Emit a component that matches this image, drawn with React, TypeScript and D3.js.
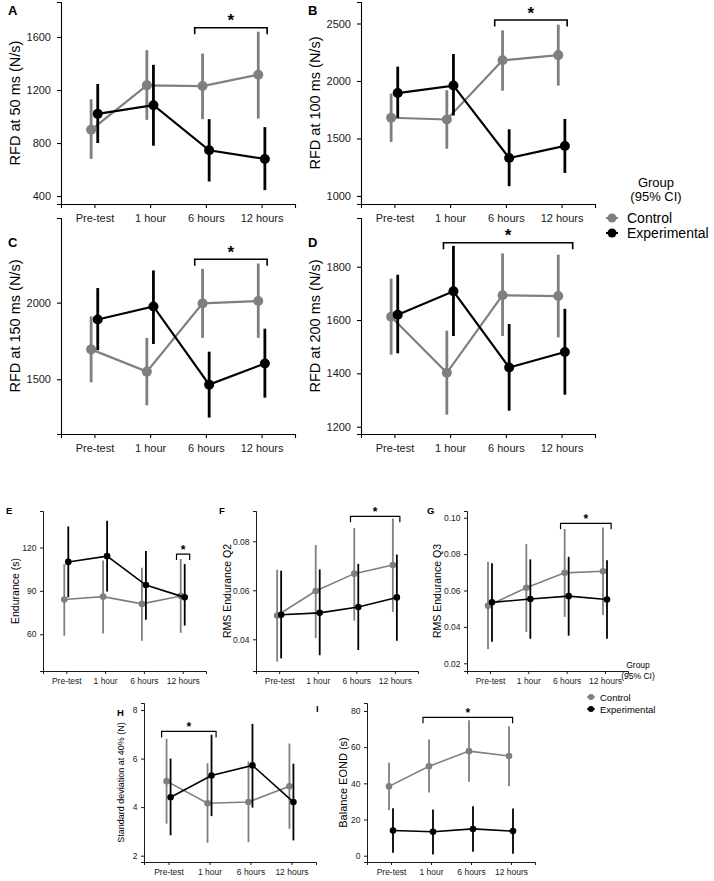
import { useEffect, useRef } from 'react'
import * as d3 from 'd3'

const times = ['Pre-test', '1 hour', '6 hours', '12 hours']
const groups = ['Control', 'Experimental']

// each entry: [mean, lower 95% CI, upper 95% CI]
const rfd50Control = [[900, 680, 1130], [1235, 975, 1500], [1230, 980, 1475], [1315, 985, 1640]]
const rfd50Experimental = [[1020, 800, 1245], [1085, 780, 1390], [745, 510, 980], [680, 445, 920]]
const rfd100Control = [[1680, 1470, 1890], [1665, 1410, 1920], [2180, 1915, 2440], [2225, 1960, 2490]]
const rfd100Experimental = [[1895, 1680, 2125], [1960, 1700, 2235], [1330, 1085, 1580], [1435, 1200, 1670]]
const rfd150Control = [[1695, 1480, 1910], [1550, 1330, 1770], [1995, 1770, 2220], [2010, 1770, 2255]]
const rfd150Experimental = [[1890, 1690, 2095], [1975, 1730, 2210], [1465, 1250, 1680], [1603, 1380, 1830]]
const rfd200Control = [[1612, 1470, 1755], [1402, 1245, 1560], [1693, 1540, 1850], [1690, 1535, 1845]]
const rfd200Experimental = [[1620, 1475, 1770], [1708, 1540, 1878], [1422, 1260, 1585], [1480, 1320, 1642]]
const enduranceControl = [[84, 59, 108.5], [86, 60.5, 111], [81, 55.5, 106], [86.5, 61, 112]]
const enduranceExperimental = [[110, 85.5, 134.5], [114, 89.5, 138.5], [94, 70, 117.5], [85.5, 66, 108.5]]
const rmsQ2Control = [[0.0497, 0.0309, 0.0684], [0.0597, 0.0405, 0.0785], [0.0668, 0.0476, 0.0855], [0.0703, 0.0512, 0.0893]]
const rmsQ2Experimental = [[0.05, 0.0322, 0.068], [0.0508, 0.0335, 0.0685], [0.0532, 0.0356, 0.0708], [0.0571, 0.0394, 0.0746]]
const rmsQ3Control = [[0.0516, 0.0277, 0.0758], [0.0615, 0.0372, 0.0855], [0.0697, 0.0455, 0.0938], [0.0706, 0.0465, 0.0947]]
const rmsQ3Experimental = [[0.0535, 0.0319, 0.075], [0.0553, 0.0335, 0.0771], [0.0569, 0.0352, 0.0785], [0.0551, 0.0335, 0.0767]]
const sdControl = [[5.07, 3.32, 6.82], [4.16, 2.53, 5.81], [4.21, 2.56, 5.88], [4.86, 3.11, 6.62]]
const sdExperimental = [[4.41, 2.84, 6.0], [5.3, 3.63, 6.98], [5.72, 3.98, 7.43], [4.21, 2.63, 5.79]]
const balanceControl = [[38.3, 25.1, 51.4], [49.4, 34.9, 64.2], [57.8, 40.9, 74.8], [55.1, 38.4, 71.6]]
const balanceExperimental = [[13.9, 1.6, 26.2], [13.2, 0.7, 25.6], [14.8, 2.2, 27.4], [13.6, 1.1, 26.1]]

// tick values per panel
const rfd50Ticks = [400, 800, 1200, 1600]
const rfd100Ticks = [1000, 1500, 2000, 2500]
const rfd150Ticks = [1500, 2000]
const rfd200Ticks = [1200, 1400, 1600, 1800]
const enduranceTicks = [60, 90, 120]
const rmsQ2Ticks = [0.04, 0.06, 0.08]
const rmsQ3Ticks = [0.02, 0.04, 0.06, 0.08, 0.1]
const sdTicks = [2, 4, 6, 8]
const balanceTicks = [0, 20, 40, 60, 80]

// significance brackets: [from (time index), to (time index), height in data units]
const rfd50Sig = [1.8, 3.1, 1670]
const rfd100Sig = [1.8, 3.1, 2530]
const rfd150Sig = [1.8, 3.1, 2283]
const rfd200Sig = [0.88, 3.2, 1890]
const enduranceSig = [2.84, 3.18, 115.4]
const rmsQ2Sig = [1.85, 3.13, 0.0902]
const rmsQ3Sig = [1.84, 3.16, 0.0969]
const sdSig = [-0.17, 1.16, 7.12]
const balanceSig = [0.8, 3.04, 76.5]

const GRAY = '#7f7f7f'
const FONT = "'Liberation Sans', Arial, Helvetica, sans-serif"

const panels = [
  { letter: 'A', lx: 8, ly: 15, title: 'RFD at 50 ms (N/s)', tx: 15, tsize: 14.5, x0: 61, x1: 295, top: 2, bottom: 204, domain: [340, 1864], ticks: rfd50Ticks, fmt: 'd', control: rfd50Control, experimental: rfd50Experimental, sig: rfd50Sig, big: true },
  { letter: 'B', lx: 308, ly: 15, title: 'RFD at 100 ms (N/s)', tx: 315, tsize: 14.5, x0: 361, x1: 595, top: 2, bottom: 204, domain: [930, 2687], ticks: rfd100Ticks, fmt: 'd', control: rfd100Control, experimental: rfd100Experimental, sig: rfd100Sig, big: true },
  { letter: 'C', lx: 8, ly: 247, title: 'RFD at 150 ms (N/s)', tx: 15, tsize: 14.5, x0: 61, x1: 295, top: 218, bottom: 434, domain: [1143, 2552], ticks: rfd150Ticks, fmt: 'd', control: rfd150Control, experimental: rfd150Experimental, sig: rfd150Sig, big: true },
  { letter: 'D', lx: 308, ly: 247, title: 'RFD at 200 ms (N/s)', tx: 315, tsize: 14.5, x0: 361, x1: 595, top: 218, bottom: 434, domain: [1172.6, 1982.6], ticks: rfd200Ticks, fmt: 'd', control: rfd200Control, experimental: rfd200Experimental, sig: rfd200Sig, big: true },
  { letter: 'E', lx: 6, ly: 514, title: 'Endurance (s)', tx: 15, tsize: 10.5, x0: 43, x1: 206, top: 511, bottom: 671, domain: [34.6, 145.2], ticks: enduranceTicks, fmt: 'd', control: enduranceControl, experimental: enduranceExperimental, sig: enduranceSig, big: false },
  { letter: 'F', lx: 219, ly: 514, title: 'RMS Endurance Q2', tx: 227, tsize: 10.5, x0: 256, x1: 418, top: 511, bottom: 671, domain: [0.02706, 0.09237], ticks: rmsQ2Ticks, fmt: '.2f', control: rmsQ2Control, experimental: rmsQ2Experimental, sig: rmsQ2Sig, big: false },
  { letter: 'G', lx: 427, ly: 514, title: 'RMS Endurance Q3', tx: 437, tsize: 10.5, x0: 467, x1: 628, top: 511, bottom: 671, domain: [0.01577, 0.1037], ticks: rmsQ3Ticks, fmt: '.2f', control: rmsQ3Control, experimental: rmsQ3Experimental, sig: rmsQ3Sig, big: false },
  { letter: 'H', lx: 117, ly: 716, title: 'Standard deviation at 40% (N)', tx: 121, tsize: 9, x0: 144, x1: 316, top: 703, bottom: 862, domain: [1.74, 8.29], ticks: sdTicks, fmt: 'd', control: sdControl, experimental: sdExperimental, sig: sdSig, big: false },
  { letter: 'I', lx: 316, ly: 712, title: 'Balance EOND (s)', tx: 343, tsize: 11, x0: 367, x1: 535, top: 703, bottom: 862, domain: [-3.48, 84.4], ticks: balanceTicks, fmt: 'd', control: balanceControl, experimental: balanceExperimental, sig: balanceSig, big: false },
]

const App = () => {
  const ref = useRef<SVGSVGElement>(null)

  useEffect(() => {
    const svg = d3.select(ref.current)
    svg.selectAll('*').remove()

    panels.forEach((p) => {
      const big = p.big
      const g = svg.append('g').attr('font-family', FONT)
      const x = d3.scalePoint<string>().domain(times).range([p.x0, p.x1]).padding(0.6)
      const step = x.step()
      const y = d3.scaleLinear().domain(p.domain).range([p.bottom, p.top])
      const dodge = big ? 3.3 : 2
      const tickLen = big ? 4 : 3

      // axes
      const yAxis = g.append('g')
        .attr('transform', `translate(${p.x0},0)`)
        .call(d3.axisLeft(y).tickValues(p.ticks).tickSizeOuter(0).tickSize(tickLen).tickPadding(big ? 6 : 3.5)
          .tickFormat((d) => d3.format(p.fmt)(d as number)))
      const xAxis = g.append('g')
        .attr('transform', `translate(0,${p.bottom})`)
        .call(d3.axisBottom(x).tickSizeOuter(0).tickSize(tickLen).tickPadding(big ? 6 : 4))
      ;[yAxis, xAxis].forEach((ax) => {
        ax.attr('font-family', FONT).attr('font-size', big ? 11 : 8.5)
        ax.select('.domain').attr('stroke', '#000').attr('stroke-width', big ? 1.1 : 0.9)
        ax.selectAll('.tick line').attr('stroke', '#000').attr('stroke-width', big ? 1.1 : 0.9)
        ax.selectAll('.tick text').attr('fill', '#1a1a1a')
      })

      // y title
      g.append('text')
        .attr('transform', `translate(${p.tx},${(p.top + p.bottom) / 2}) rotate(-90)`)
        .attr('text-anchor', 'middle')
        .attr('dominant-baseline', 'central')
        .attr('font-size', p.tsize)
        .attr('fill', '#000')
        .text(p.title)

      // panel letter
      g.append('text')
        .attr('x', p.lx).attr('y', p.ly)
        .attr('font-size', big ? 13 : 9.5)
        .attr('font-weight', 'bold')
        .text(p.letter)

      // series: control first, experimental on top
      const series = [
        { data: p.control, color: GRAY, off: -dodge },
        { data: p.experimental, color: '#000', off: dodge },
      ]
      series.forEach((s) => {
        const px = (i: number) => (x(times[i]) as number) + s.off
        g.append('path')
          .datum(s.data)
          .attr('fill', 'none')
          .attr('stroke', s.color)
          .attr('stroke-width', big ? 2.2 : 1.6)
          .attr('d', d3.line<number[]>().x((_, i) => px(i)).y((d) => y(d[0])))
        g.append('g').selectAll('line')
          .data(s.data)
          .enter()
          .append('line')
          .attr('x1', (_, i) => px(i)).attr('x2', (_, i) => px(i))
          .attr('y1', (d) => y(d[1])).attr('y2', (d) => y(d[2]))
          .attr('stroke', s.color)
          .attr('stroke-width', big ? 2.8 : 1.8)
        g.append('g').selectAll('circle')
          .data(s.data)
          .enter()
          .append('circle')
          .attr('cx', (_, i) => px(i))
          .attr('cy', (d) => y(d[0]))
          .attr('r', big ? 5 : 3.3)
          .attr('fill', s.color)
      })

      // significance bracket
      const base = (x(times[0]) as number)
      const xa = base + p.sig[0] * step
      const xb = base + p.sig[1] * step
      const yb = y(p.sig[2])
      const drop = big ? 6.5 : 6
      g.append('path')
        .attr('d', `M${xa},${yb + drop}L${xa},${yb}L${xb},${yb}L${xb},${yb + drop}`)
        .attr('fill', 'none')
        .attr('stroke', '#000')
        .attr('stroke-width', big ? 1.6 : 1.2)
      g.append('text')
        .attr('x', (xa + xb) / 2)
        .attr('y', big ? yb - 1.5 : yb - 0.5)
        .attr('text-anchor', 'middle')
        .attr('font-size', big ? 17 : 12)
        .attr('font-weight', 'bold')
        .text('*')
    })

    // legends
    const legends = [
      { cx: 656, t1: 187, t2: 201, dotX: 612, rows: [218, 233], textX: 627, titleSize: 13, labelSize: 14, r: 4.5, half: 6 },
      { cx: 638, t1: 668, t2: 679, dotX: 591, rows: [697, 709], textX: 600, titleSize: 8.5, labelSize: 9.5, r: 3, half: 4 },
    ]
    legends.forEach((L) => {
      const lg = svg.append('g').attr('font-family', FONT)
      lg.append('text').attr('x', L.cx).attr('y', L.t1).attr('text-anchor', 'middle').attr('font-size', L.titleSize).text('Group')
      lg.append('text').attr('x', L.cx).attr('y', L.t2).attr('text-anchor', 'middle').attr('font-size', L.titleSize).text('(95% CI)')
      groups.forEach((name, i) => {
        const color = i === 0 ? GRAY : '#000'
        const cy = L.rows[i]
        lg.append('line')
          .attr('x1', L.dotX - L.half).attr('x2', L.dotX + L.half)
          .attr('y1', cy).attr('y2', cy)
          .attr('stroke', color).attr('stroke-width', L.r > 4 ? 2 : 1.4)
        lg.append('circle').attr('cx', L.dotX).attr('cy', cy).attr('r', L.r).attr('fill', color)
        lg.append('text')
          .attr('x', L.textX).attr('y', cy)
          .attr('dominant-baseline', 'central')
          .attr('font-size', L.labelSize)
          .text(name)
      })
    })
  }, [])

  return (
    <svg
      ref={ref}
      width={714}
      height={881}
      style={{ position: 'absolute', left: 0, top: 0, background: '#fff' }}
    />
  )
}

export default App
